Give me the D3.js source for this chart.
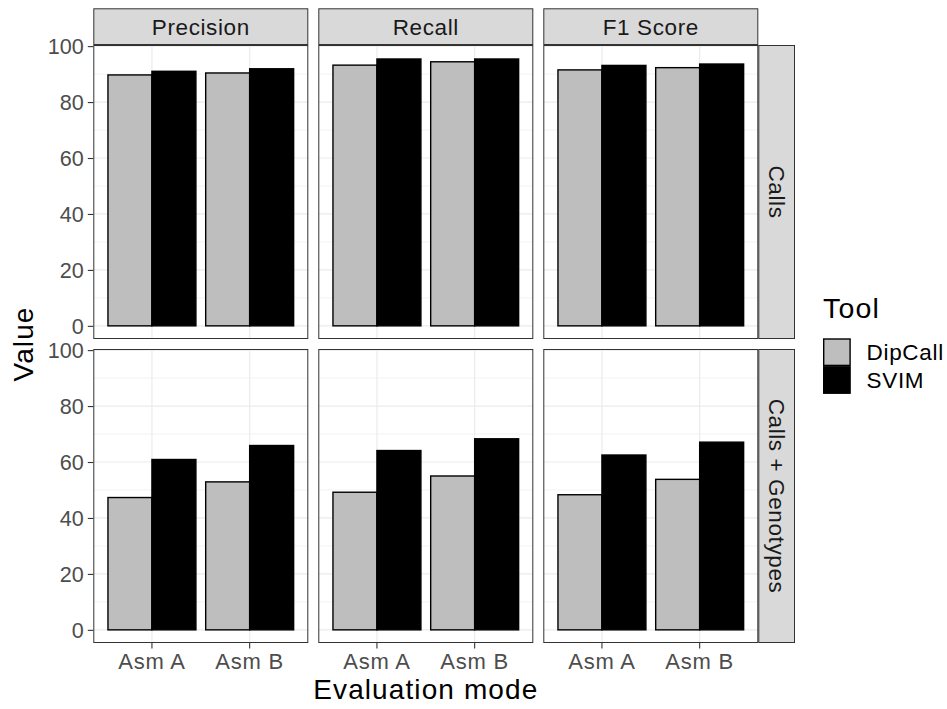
<!DOCTYPE html>
<html><head><meta charset="utf-8">
<script src="https://cdn.jsdelivr.net/npm/d3@7"></script>
<style>
html,body{margin:0;padding:0;background:#fff;}
svg{display:block;font-family:"Liberation Sans",Arial,Helvetica,sans-serif;}
</style></head>
<body><svg id="chart" width="947" height="709"></svg>
<script>
// ---- data ----
const metrics = ["Precision", "Recall", "F1 Score"];
const modes = ["Calls", "Calls + Genotypes"];
const assemblies = ["Asm A", "Asm B"];
const tools = ["DipCall", "SVIM"];
// values ordered: Precision(Asm A, Asm B), Recall(Asm A, Asm B), F1 Score(Asm A, Asm B)
const dipcallCalls = [89.7, 90.4, 93.2, 94.4, 91.5, 92.3];
const svimCalls = [91.0, 91.9, 95.4, 95.4, 93.1, 93.6];
const dipcallCallsGenotypes = [47.3, 52.9, 49.2, 55.0, 48.3, 53.8];
const svimCallsGenotypes = [60.9, 65.9, 64.1, 68.3, 62.5, 67.1];
const yTicks = [0, 20, 40, 60, 80, 100];
const yMinorTicks = [10, 30, 50, 70, 90];
const toolColors = ["#BEBEBE", "#000000"];

const seriesByMode = {
  "Calls": [dipcallCalls, svimCalls],
  "Calls + Genotypes": [dipcallCallsGenotypes, svimCallsGenotypes]
};
const rows = [];
modes.forEach(mode => {
  metrics.forEach((metric, mi) => {
    assemblies.forEach((asm, ai) => {
      tools.forEach((tool, ti) => {
        rows.push({mode, metric, asm, tool, value: seriesByMode[mode][ti][mi * 2 + ai]});
      });
    });
  });
});

// ---- layout ----
const svg = d3.select("#chart");
const panelLeft = 93.3, panelW = 215, gapX = 10;
const panelTop = 45, panelH = 294, gapY = 10;
const stripH = 36.7, stripW = 36.7;
const grey20 = "#333333";

const color = d3.scaleOrdinal().domain(tools).range(toolColors);
const y0 = d3.scaleLinear().domain([-4.7, 100.4]).range([panelH, 0]);
const x0 = d3.scaleBand().domain(assemblies).range([0, panelW]).paddingInner(0.1).paddingOuter(0.15);
const x1 = d3.scaleBand().domain(tools).range([0, x0.bandwidth()]).padding(0);

metrics.forEach((metric, ci) => {
  modes.forEach((mode, ri) => {
    const px = panelLeft + ci * (panelW + gapX);
    const py = panelTop + ri * (panelH + gapY);
    const g = svg.append("g").attr("transform", `translate(${px},${py})`);
    g.append("rect").attr("width", panelW).attr("height", panelH).attr("fill", "#fff");
    g.selectAll(".ymin").data(yMinorTicks).enter().append("line")
      .attr("x1", 0).attr("x2", panelW).attr("y1", d => y0(d)).attr("y2", d => y0(d))
      .attr("stroke", "#EBEBEB").attr("stroke-width", 0.6);
    g.selectAll(".ymaj").data(yTicks).enter().append("line")
      .attr("x1", 0).attr("x2", panelW).attr("y1", d => y0(d)).attr("y2", d => y0(d))
      .attr("stroke", "#EBEBEB").attr("stroke-width", 1.2);
    g.selectAll(".xmaj").data(assemblies).enter().append("line")
      .attr("x1", d => x0(d) + x0.bandwidth() / 2).attr("x2", d => x0(d) + x0.bandwidth() / 2)
      .attr("y1", 0).attr("y2", panelH)
      .attr("stroke", "#EBEBEB").attr("stroke-width", 1.2);
    const data = rows.filter(r => r.metric === metric && r.mode === mode);
    g.selectAll(".bar").data(data).enter().append("rect")
      .attr("x", d => x0(d.asm) + x1(d.tool))
      .attr("width", x1.bandwidth())
      .attr("y", d => y0(d.value))
      .attr("height", d => y0(0) - y0(d.value))
      .attr("fill", d => color(d.tool))
      .attr("stroke", "#000").attr("stroke-width", 1.4);
    g.append("rect").attr("x", 0.5).attr("y", 0.5).attr("width", panelW - 1).attr("height", panelH - 1)
      .attr("fill", "none").attr("stroke", grey20).attr("stroke-width", 1);

    if (ci === 0) {
      const ax = g.append("g").call(d3.axisLeft(y0).tickValues(yTicks).tickSize(5.5).tickPadding(4));
      ax.select(".domain").remove();
      ax.selectAll(".tick line").attr("stroke", grey20).attr("stroke-width", 1.1);
      ax.selectAll(".tick text").attr("fill", "#4D4D4D").attr("font-size", 21.6)
        .attr("font-family", "Liberation Sans, Arial, sans-serif").attr("dy", "0.36em");
    }
    if (ri === modes.length - 1) {
      const ax = g.append("g").attr("transform", `translate(0,${panelH})`)
        .call(d3.axisBottom(x0).tickSize(5.5).tickPadding(4));
      ax.select(".domain").remove();
      ax.selectAll(".tick line").attr("stroke", grey20).attr("stroke-width", 1.1);
      ax.selectAll(".tick text").attr("fill", "#4D4D4D").attr("font-size", 22)
        .attr("letter-spacing", "0.8px")
        .attr("font-family", "Liberation Sans, Arial, sans-serif").attr("dy", "0.74em");
    }
    if (ri === 0) {
      const s = svg.append("g").attr("transform", `translate(${px},${panelTop - stripH})`);
      s.append("rect").attr("x", 0.5).attr("y", 0.5).attr("width", panelW - 1).attr("height", stripH - 1)
        .attr("fill", "#D9D9D9").attr("stroke", grey20).attr("stroke-width", 1);
      s.append("text").attr("x", panelW / 2).attr("y", stripH / 2).attr("dy", "0.36em")
        .attr("text-anchor", "middle").attr("font-size", 22.5).attr("letter-spacing", "0.6px")
        .attr("fill", "#1A1A1A").text(metric);
    }
    if (ci === metrics.length - 1) {
      const s = svg.append("g").attr("transform", `translate(${px + panelW},${py})`);
      s.append("rect").attr("x", 0.5).attr("y", 0.5).attr("width", stripW - 1).attr("height", panelH - 1)
        .attr("fill", "#D9D9D9").attr("stroke", grey20).attr("stroke-width", 1);
      s.append("text").attr("transform", `translate(${stripW / 2},${panelH / 2}) rotate(90)`)
        .attr("dy", "0.36em").attr("text-anchor", "middle").attr("font-size", 22.5)
        .attr("letter-spacing", "0.6px").attr("fill", "#1A1A1A").text(mode);
    }
  });
});

const plotCenterX = panelLeft + (metrics.length * panelW + (metrics.length - 1) * gapX) / 2;
const plotCenterY = panelTop + (modes.length * panelH + (modes.length - 1) * gapY) / 2;
svg.append("text").attr("x", plotCenterX).attr("y", 699).attr("text-anchor", "middle")
  .attr("font-size", 28).attr("letter-spacing", "1.1px").attr("fill", "#000").text("Evaluation mode");
svg.append("text").attr("transform", `translate(33,${plotCenterY}) rotate(-90)`)
  .attr("text-anchor", "middle").attr("font-size", 28).attr("letter-spacing", "1.1px")
  .attr("fill", "#000").text("Value");

const lg = svg.append("g").attr("transform", "translate(823,0)");
lg.append("text").attr("x", 0).attr("y", 318).attr("font-size", 28.5).attr("letter-spacing", "1.2px")
  .attr("fill", "#000").text("Tool");
tools.forEach((t, i) => {
  const ky = 338.3 + i * 27.8;
  lg.append("rect").attr("x", 0.7).attr("y", ky + 0.7).attr("width", 26.4).attr("height", 26.4)
    .attr("fill", color(t)).attr("stroke", "#000").attr("stroke-width", 1.4);
  lg.append("text").attr("x", 43.5).attr("y", ky + 13.9).attr("dy", "0.36em")
    .attr("font-size", 22.5).attr("letter-spacing", "0.7px").attr("fill", "#000").text(t);
});
</script>
</body></html>
